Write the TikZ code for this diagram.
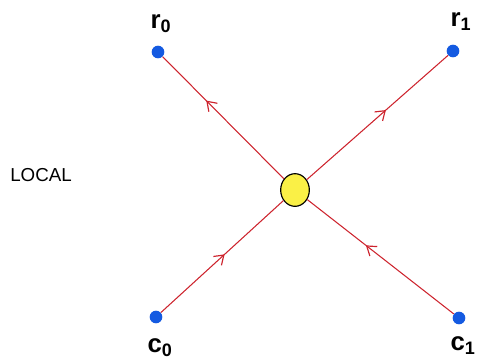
\documentclass[tikz,border=0pt]{standalone}
\usepackage{fontspec}
\setmainfont{Liberation Sans}
\usetikzlibrary{arrows.meta,decorations.markings,shapes.geometric}
\definecolor{linered}{RGB}{205,35,45}
\definecolor{dotblue}{RGB}{20,90,225}
\definecolor{hubyellow}{RGB}{250,240,70}
\begin{document}
\begin{tikzpicture}[x=0.03cm,y=-0.03cm,
  dotnode/.style={circle,fill=dotblue,inner sep=0pt,minimum size=0.38cm},
  hubnode/.style={ellipse,draw=black,line width=1pt,fill=hubyellow,inner sep=0pt,minimum width=0.86cm,minimum height=0.98cm},
  wire/.style={draw=linered,line width=0.9pt},
  midarrow/.style={postaction={decorate},decoration={markings,
     mark=at position #1 with {\arrow[linered,line width=1pt]{Straight Barb[length=2.6mm,width=3.6mm]}}}},
  lbl/.style={font=\bfseries\fontsize{22}{24}\selectfont,inner sep=0pt},
  plain/.style={font=\fontsize{16}{18}\selectfont,inner sep=0pt}]
\useasboundingbox (0,0) rectangle (481,361);
\node[hubnode] (hub) at (295,190) {};
\node[dotnode] (r0) at (158,52) {};
\node[dotnode] (r1) at (453,51) {};
\node[dotnode] (c0) at (156,317) {};
\node[dotnode] (c1) at (459,318) {};
\node[lbl] (r0lab) at (161,24) {r\textsubscript{0}};
\node[lbl] (r1lab) at (461,22) {r\textsubscript{1}};
\node[lbl] (c0lab) at (160,348) {c\textsubscript{0}};
\node[lbl] (c1lab) at (463,346) {c\textsubscript{1}};
\node[plain] (local) at (41,175) {LOCAL};
\draw[wire,midarrow=0.64] (hub) -- (r0);
\draw[wire,midarrow=0.56] (hub) -- (r1);
\draw[wire,midarrow=0.52] (c0) -- (hub);
\draw[wire,midarrow=0.6] (c1) -- (hub);
\end{tikzpicture}
\end{document}
